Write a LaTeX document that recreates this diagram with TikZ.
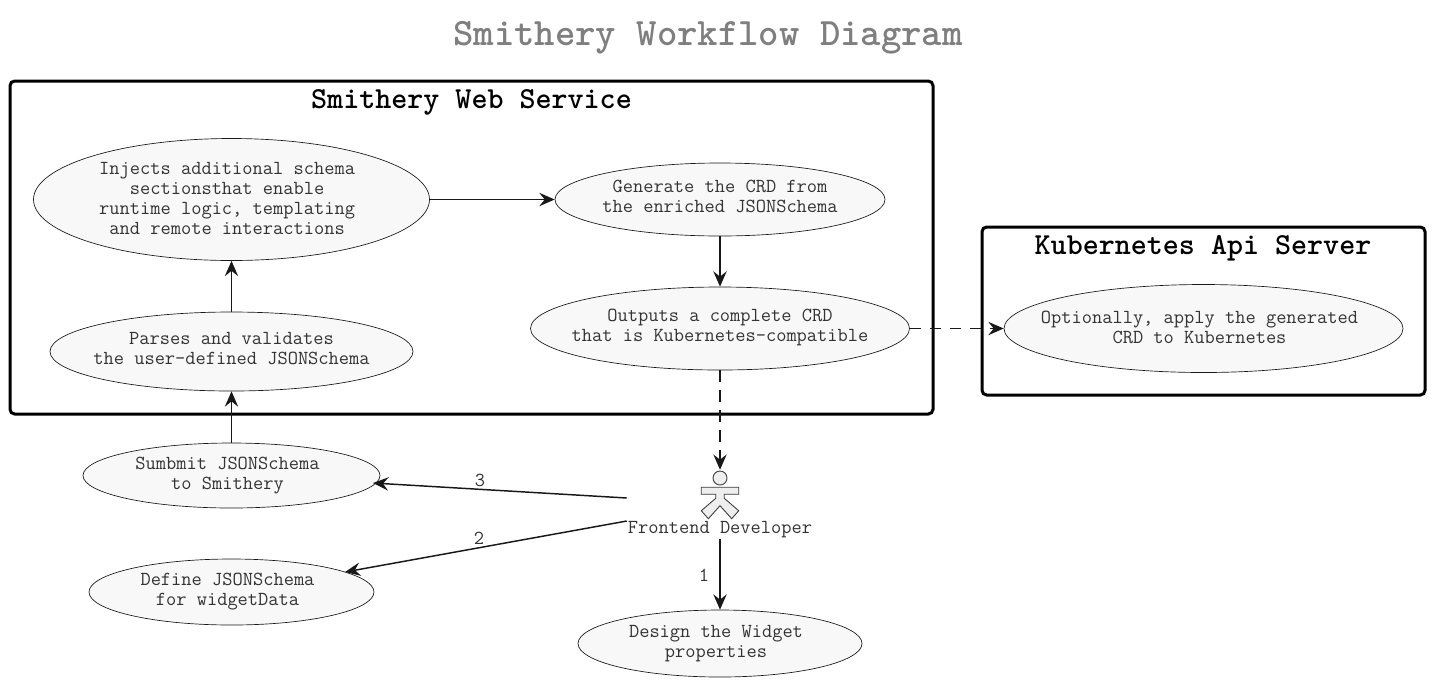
\documentclass[tikz,border=0pt]{standalone}
\usepackage{fontspec}
\usetikzlibrary{arrows.meta,shapes.geometric}
\definecolor{ink}{HTML}{181818}
\definecolor{usefill}{HTML}{F8F8F8}
\definecolor{actorfill}{HTML}{EEEEEE}
\definecolor{titlegrey}{HTML}{7F7F7F}
\definecolor{txt}{HTML}{333333}
\tikzset{
  usecase/.style={ellipse,draw=ink,fill=usefill,line width=0.5pt,inner sep=0pt},
  casetext/.style={align=center,text=txt,inner sep=0pt,font=\ttfamily\fontsize{14.9}{15}\selectfont},
  grp/.style={draw=black,line width=2.25pt,rounded corners=3.5pt,inner sep=0pt},
  grptitle/.style={font=\ttfamily\bfseries\fontsize{22.9}{24}\selectfont\addfontfeature{FakeBold=2},text=black,inner sep=0pt},
  edgelab/.style={font=\ttfamily\fontsize{14.9}{15}\selectfont,text=txt,inner sep=0pt},
  flow/.style={draw=ink,line width=1.1pt,-{Stealth[length=11.5pt,width=10pt,inset=4pt]}},
  dflow/.style={flow,dash pattern=on 8.5pt off 6.5pt},
  actorshape/.style={draw=ink!85,fill=actorfill,line width=0.65pt},
}
\begin{document}
\begin{tikzpicture}[x=0.75pt,y=-0.75pt]
\useasboundingbox (0,0) rectangle (1433,683);
\node[font=\ttfamily\bfseries\fontsize{29.1}{30}\selectfont\addfontfeature{FakeBold=2},text=titlegrey,inner sep=0pt] (title) at (708,37.5) {Smithery Workflow Diagram};
% groups
\node[grp,minimum width=692.25pt,minimum height=249.75pt] (web) at (471.5,247.5) {};
\node[grptitle] (webt) at (471.5,102.5) {Smithery Web Service};
\node[grp,minimum width=332.25pt,minimum height=126pt] (k8s) at (1203.5,311) {};
\node[grptitle] (k8st) at (1203,248.5) {Kubernetes Api Server};
% use cases
\node[usecase,minimum width=297pt,minimum height=91.5pt,label={[casetext,xshift=-3.3pt,yshift=0.6pt]center:Injects additional schema\\sectionsthat enable\\runtime logic, templating\\and remote interactions}] (inject) at (231.5,199.5) {};
\node[usecase,minimum width=272.25pt,minimum height=59.25pt,label={[casetext,yshift=2pt]center:Parses and validates\\the user-defined JSONSchema}] (parse) at (231.5,351.5) {};
\node[usecase,minimum width=247.5pt,minimum height=54.75pt,label={[casetext,yshift=2pt]center:Generate the CRD from\\the enriched JSONSchema}] (gen) at (720,199.5) {};
\node[usecase,minimum width=284.25pt,minimum height=62.25pt,label={[casetext,yshift=1pt]center:Outputs a complete CRD\\that is Kubernetes-compatible}] (out) at (720,328.5) {};
\node[usecase,minimum width=299.25pt,minimum height=66pt,label={[casetext,xshift=-3pt,yshift=1pt]center:Optionally, apply the generated\\CRD to Kubernetes}] (apply) at (1203.5,328.5) {};
\node[usecase,minimum width=222.75pt,minimum height=48.75pt,label={[casetext,xshift=-3pt]center:Sumbmit JSONSchema\\to Smithery}] (submit) at (231.5,475.5) {};
\node[usecase,minimum width=213.75pt,minimum height=49.5pt,label={[casetext,xshift=-3pt]center:Define JSONSchema\\for widgetData}] (define) at (231.5,592) {};
\node[usecase,minimum width=213pt,minimum height=50.25pt,label={[casetext,xshift=-3pt,yshift=-0.4pt]center:Design the Widget\\properties}] (design) at (720,643.5) {};
% actor
\node[minimum width=139.5pt,minimum height=51.75pt,inner sep=0pt] (actor) at (720,504.5) {};
\draw[actorshape] (720,478) circle (7);
\draw[actorshape] (701.3,487.3) -- (738.7,487.3) -- (738.7,494.3) -- (724.3,494.3) -- (724.3,498.3) -- (738.7,510.7) -- (731.7,518.7) -- (720,505.7) -- (708.3,518.7) -- (701.3,510.7) -- (715.7,498.3) -- (715.7,494.3) -- (701.3,494.3) -- cycle;
\node[edgelab] (actorlab) at (720,530) {Frontend Developer};
% connectors
\coordinate (subhit) at (373,483);
\coordinate (defhit) at (345,572);
\draw[flow] (inject.east) -- (gen.west);
\draw[flow] (gen.south) -- (out.north);
\draw[flow] (parse.north) -- (inject.south);
\draw[flow] (submit.north) -- (parse.south);
\draw[dflow] (out.east) -- (apply.west);
\draw[dflow] (out.south) -- (actor.north);
\draw[flow] ([yshift=4.875pt]actor.west) -- (subhit);
\draw[flow] ([yshift=-12.375pt]actor.west) -- (defhit);
\draw[flow] (actor.south) -- (design.north);
% edge labels
\node[edgelab] (l3) at (480,480) {3};
\node[edgelab] (l2) at (479,538) {2};
\node[edgelab] (l1) at (704,575) {1};
\end{tikzpicture}
\end{document}
